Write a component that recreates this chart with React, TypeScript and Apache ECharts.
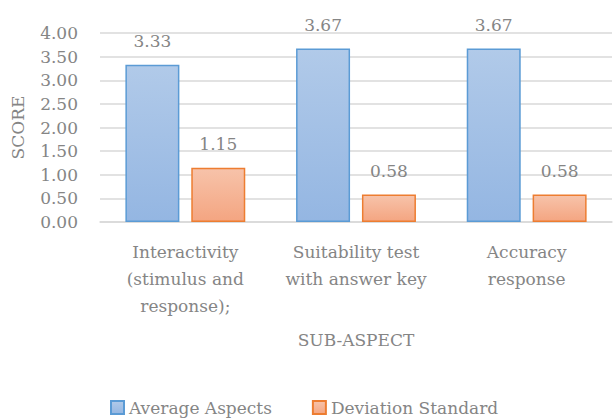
import React, { useEffect, useRef } from "react";
import * as echarts from "echarts";

const categories = [
  "Interactivity\n(stimulus and\nresponse);",
  "Suitability test\nwith answer key",
  "Accuracy\nresponse",
];
const averageAspects = [3.33, 3.67, 3.67];
const deviationStandard = [1.15, 0.58, 0.58];
const seriesNames = ["Average Aspects", "Deviation Standard"];

const FONT = "'DejaVu Serif', 'Liberation Serif', serif";
const GRAY = "#858585";
const FS = 17;

export default function App() {
  const ref = useRef<HTMLDivElement>(null);
  useEffect(() => {
    document.body.style.margin = "0";
    const chart = echarts.init(ref.current!, null, { renderer: "svg" });
    const blueGrad = new echarts.graphic.LinearGradient(0, 0, 0, 1, [
      { offset: 0, color: "#b1cae9" },
      { offset: 1, color: "#94b6e2" },
    ]);
    const orangeGrad = new echarts.graphic.LinearGradient(0, 0, 0, 1, [
      { offset: 0, color: "#f7c3aa" },
      { offset: 1, color: "#f4a581" },
    ]);
    const label = {
      show: true,
      position: "top",
      distance: 15,
      color: GRAY,
      fontFamily: FONT,
      fontSize: FS,
      formatter: (p: any) => p.value.toFixed(2),
    };
    chart.setOption({
      animation: false,
      textStyle: { fontFamily: FONT, color: GRAY },
      grid: { left: 100, right: 1, top: 33, bottom: 197, outerBoundsMode: "none", containLabel: false },
      legend: {
        data: seriesNames,
        left: 105,
        top: 394,
        icon: "rect",
        itemWidth: 13,
        itemHeight: 13,
        itemGap: 40,
        textStyle: { fontFamily: FONT, fontSize: FS, color: GRAY },
      },
      xAxis: {
        type: "category",
        data: categories,
        name: "SUB-ASPECT",
        nameLocation: "middle",
        nameGap: 109,
        nameTextStyle: { fontFamily: FONT, fontSize: FS, color: GRAY },
        axisLine: { lineStyle: { color: "#d9d9d9", width: 1.5 } },
        axisTick: { show: false },
        axisLabel: {
          fontFamily: FONT,
          fontSize: FS,
          color: GRAY,
          lineHeight: 27,
          margin: 16,
          interval: 0,
        },
      },
      yAxis: {
        type: "value",
        min: 0,
        max: 4,
        interval: 0.5,
        name: "SCORE",
        nameLocation: "middle",
        nameGap: 74,
        nameTextStyle: { fontFamily: FONT, fontSize: FS, color: GRAY },
        axisLine: { show: false },
        axisTick: { show: false },
        axisLabel: {
          fontFamily: FONT,
          fontSize: FS,
          color: GRAY,
          margin: 22,
          formatter: (v: number) => v.toFixed(2),
        },
        splitLine: { lineStyle: { color: "#d9d9d9", width: 1.5 } },
      },
      series: [
        {
          name: seriesNames[0],
          type: "bar",
          data: averageAspects,
          barWidth: 54,
          barGap: "22%",
          itemStyle: { color: blueGrad, borderColor: "#5b9bd5", borderWidth: 1.5 },
          label,
        },
        {
          name: seriesNames[1],
          type: "bar",
          data: deviationStandard,
          barWidth: 54,
          itemStyle: { color: orangeGrad, borderColor: "#ed7d31", borderWidth: 1.5 },
          label,
        },
      ],
    });
    return () => chart.dispose();
  }, []);
  return <div ref={ref} style={{ width: 613, height: 419 }} />;
}
